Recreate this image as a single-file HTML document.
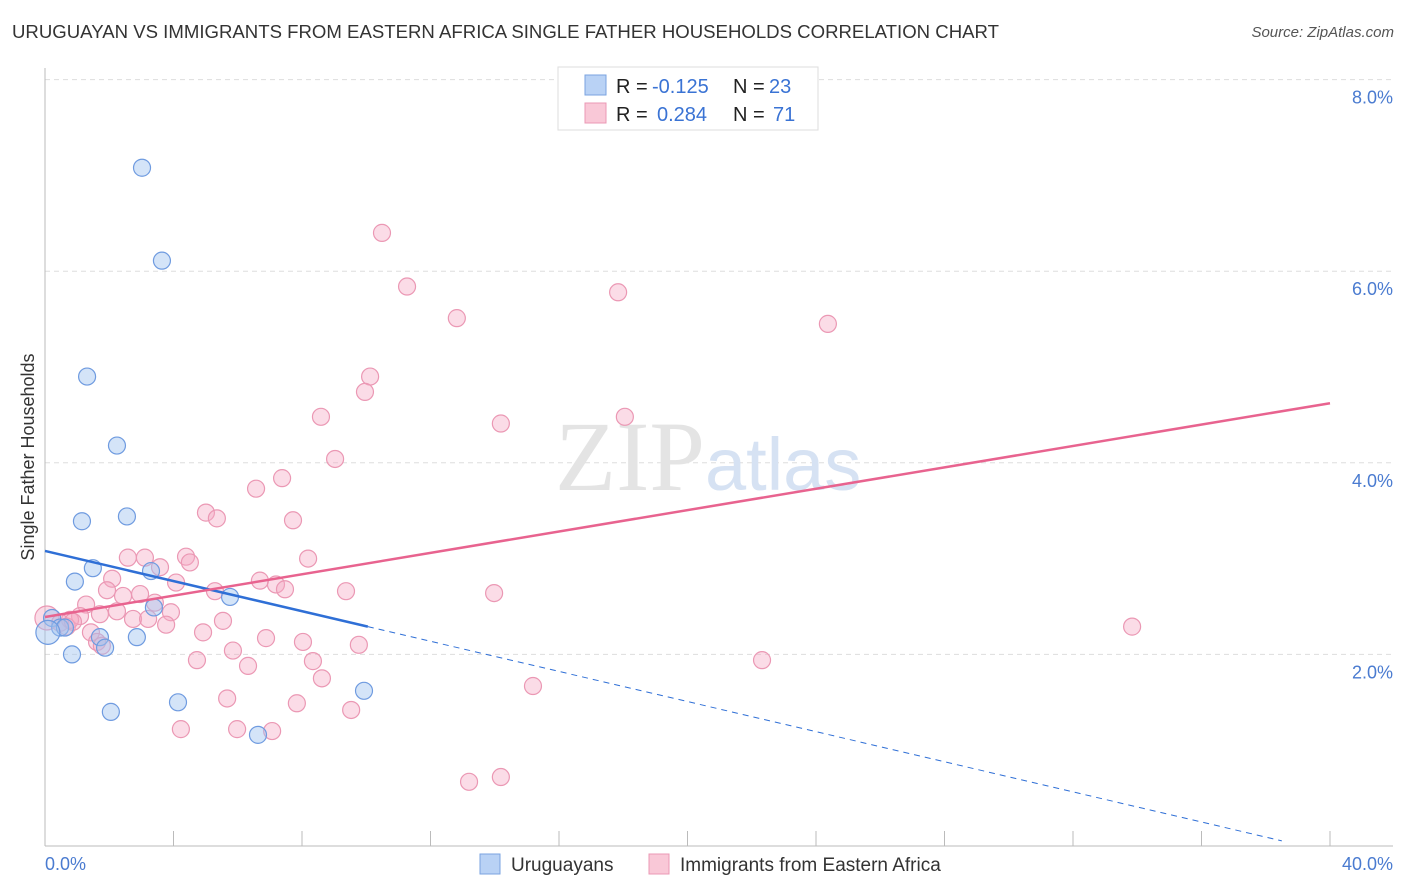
<!DOCTYPE html>
<html><head><meta charset="utf-8">
<style>
body{margin:0;background:#fff;font-family:"Liberation Sans",sans-serif;}
#wrap{position:relative;width:1406px;height:892px;overflow:hidden;}
.t{position:absolute;white-space:nowrap;}
</style></head>
<body>
<div id="wrap">
<div class="t" style="left:12px;top:21px;font-size:18.6px;color:#333;">URUGUAYAN VS IMMIGRANTS FROM EASTERN AFRICA SINGLE FATHER HOUSEHOLDS CORRELATION CHART</div>
<div class="t" style="right:12px;top:24px;font-size:15px;color:#555;font-style:italic;">Source: ZipAtlas.com</div>
<svg id="plot" width="1406" height="892" style="position:absolute;left:0;top:0"></svg>
</div>
<script>
const xTickVals=[0,4,8,12,16,20,24,28,32,36,40];
const yTickVals=[2,4,6,8];
const blueX=[3.02,3.64,1.31,2.24,1.15,2.55,1.49,0.93,3.30,3.39,5.76,0.22,0.47,0.62,1.71,1.87,2.86,0.84,4.14,2.05,6.63,9.93,0.09];
const blueY=[7.08,6.11,4.90,4.18,3.39,3.44,2.90,2.76,2.87,2.49,2.60,2.38,2.28,2.28,2.18,2.07,2.18,2.00,1.50,1.40,1.16,1.62,2.23];
const pinkX=[10.49,11.27,12.82,17.84,24.37,10.12,9.96,8.59,14.19,18.05,9.03,7.38,13.98,33.84,22.32,15.19,13.20,14.19,2.58,3.11,3.58,4.39,4.51,8.19,2.09,1.93,2.43,2.96,1.28,1.09,0.78,4.08,5.29,6.69,7.19,7.47,9.37,3.42,2.24,2.74,3.21,3.92,3.77,4.92,5.54,6.88,8.03,9.77,1.43,1.62,1.77,4.73,5.85,6.32,8.34,8.62,5.67,7.84,9.53,4.23,5.98,7.07,0.06,0.47,0.68,0.87,5.01,5.35,7.72,6.57,1.71];
const pinkY=[6.40,5.84,5.51,5.78,5.45,4.90,4.74,4.48,4.41,4.48,4.04,3.84,2.64,2.29,1.94,1.67,0.67,0.72,3.01,3.01,2.91,3.02,2.96,3.00,2.79,2.67,2.61,2.63,2.52,2.40,2.36,2.75,2.66,2.77,2.73,2.68,2.66,2.54,2.45,2.37,2.37,2.44,2.31,2.23,2.35,2.17,2.13,2.10,2.23,2.13,2.09,1.94,2.04,1.88,1.93,1.75,1.54,1.49,1.42,1.22,1.22,1.20,2.38,2.33,2.29,2.34,3.48,3.42,3.40,3.73,2.42];
const blueTrend=[3.08,-0.0786];
const pinkTrend=[2.39,0.0558];
const NS='http://www.w3.org/2000/svg';
const svg=document.getElementById('plot');
const X=v=>45+v*32.125;
const Y=v=>846-v*95.8;
function mk(tag,attrs,parent){const e=document.createElementNS(NS,tag);for(const k in attrs)e.setAttribute(k,attrs[k]);(parent||svg).appendChild(e);return e;}
yTickVals.forEach(v=>{
 const g=mk('line',{x1:45,x2:1393,y1:Y(v),y2:Y(v),stroke:'#ddd','stroke-dasharray':'5,4'});
 
 
 const t=mk('text',{x:1393,y:Y(v)+24,'text-anchor':'end','font-size':18,fill:'#4a7bd0','font-family':'Liberation Sans, sans-serif'});
 t.textContent=v.toFixed(1)+'%';
 
 
});
const ya=mk('line',{x1:45,x2:45,y1:68,y2:846,stroke:'#bbb'});


const xa=mk('line',{x1:45,x2:1393,y1:846,y2:846,stroke:'#bbb'});


xTickVals.forEach(v=>{
 const l=mk('line',{x1:X(v),x2:X(v),y1:831,y2:846,stroke:'#bbb'});
 
 
});
[[0,'0.0%','start',45],[40,'40.0%','end',1393]].forEach(a=>{
 const t=mk('text',{x:a[3],y:870,'text-anchor':a[2],'font-size':18,fill:'#4a7bd0','font-family':'Liberation Sans, sans-serif'});
 t.textContent=a[1];
 
 
});
const yt=mk('text',{x:0,y:0,transform:'translate(34,457) rotate(-90)','text-anchor':'middle','font-size':18,fill:'#333','font-family':'Liberation Sans, sans-serif'});
yt.textContent='Single Father Households';


const wm=mk('text',{x:555,y:490,'font-size':100,fill:'#e4e4e4','font-family':'Liberation Serif, serif'});
wm.innerHTML='ZIP<tspan font-family="Liberation Sans, sans-serif" font-size="74" fill="#d6e2f3">atlas</tspan>';


pinkX.forEach((v,i)=>{
 const big=(i===62);
 const c=mk('circle',{cx:X(v),cy:Y(pinkY[i]),r:big?12:8.5,fill:'rgba(246,168,194,0.4)',stroke:'#eb98b4','stroke-width':1.2});
 
 
});
blueX.forEach((v,i)=>{
 const big=(i===22);
 const c=mk('circle',{cx:X(v),cy:Y(blueY[i]),r:big?12:8.5,fill:'rgba(160,195,240,0.45)',stroke:'#6f9be0','stroke-width':1.2});
 
 
});
const bs=mk('line',{x1:X(0),y1:Y(blueTrend[0]),x2:X(10.05),y2:Y(blueTrend[0]+blueTrend[1]*10.05),stroke:'#2f6fd6','stroke-width':2.5});


const bd=mk('line',{x1:X(10.05),y1:Y(blueTrend[0]+blueTrend[1]*10.05),x2:X(38.5),y2:Y(blueTrend[0]+blueTrend[1]*38.5),stroke:'#2f6fd6','stroke-width':1,'stroke-dasharray':'6,5'});


const pl=mk('line',{x1:X(0),y1:Y(pinkTrend[0]),x2:X(40),y2:Y(pinkTrend[0]+pinkTrend[1]*40),stroke:'#e8638f','stroke-width':2.5});


const lg=mk('g',{});


mk('rect',{x:558,y:67,width:260,height:63,fill:'#fff',stroke:'#ddd'},lg);
mk('rect',{x:585,y:75,width:21,height:20,fill:'#b9d2f5',stroke:'#7aa3e0'},lg);
mk('rect',{x:585,y:103,width:21,height:20,fill:'#f9c8d7',stroke:'#eb98b4'},lg);
[[93,'-0.125',652,'23',769],[121,'0.284',657,'71',773]].forEach(r=>{
 const f={'font-size':20,'font-family':'Liberation Sans, sans-serif'};
 const a=mk('text',Object.assign({x:616,y:r[0],fill:'#222'},f),lg);a.textContent='R =';
 const b=mk('text',Object.assign({x:r[2],y:r[0],fill:'#3a73d4'},f),lg);b.textContent=r[1];
 const c=mk('text',Object.assign({x:733,y:r[0],fill:'#222'},f),lg);c.textContent='N =';
 const d=mk('text',Object.assign({x:r[4],y:r[0],fill:'#3a73d4'},f),lg);d.textContent=r[3];
});
const bl=mk('g',{});


mk('rect',{x:480,y:854,width:20,height:20,fill:'#b9d2f5',stroke:'#7aa3e0'},bl);
const t1=mk('text',{x:511,y:871,'font-size':19,fill:'#333','font-family':'Liberation Sans, sans-serif'},bl);t1.textContent='Uruguayans';
mk('rect',{x:649,y:854,width:20,height:20,fill:'#f9c8d7',stroke:'#eb98b4'},bl);
const t2=mk('text',{x:680,y:871,'font-size':19,fill:'#333','font-family':'Liberation Sans, sans-serif'},bl);t2.textContent='Immigrants from Eastern Africa';
</script>
</body></html>
